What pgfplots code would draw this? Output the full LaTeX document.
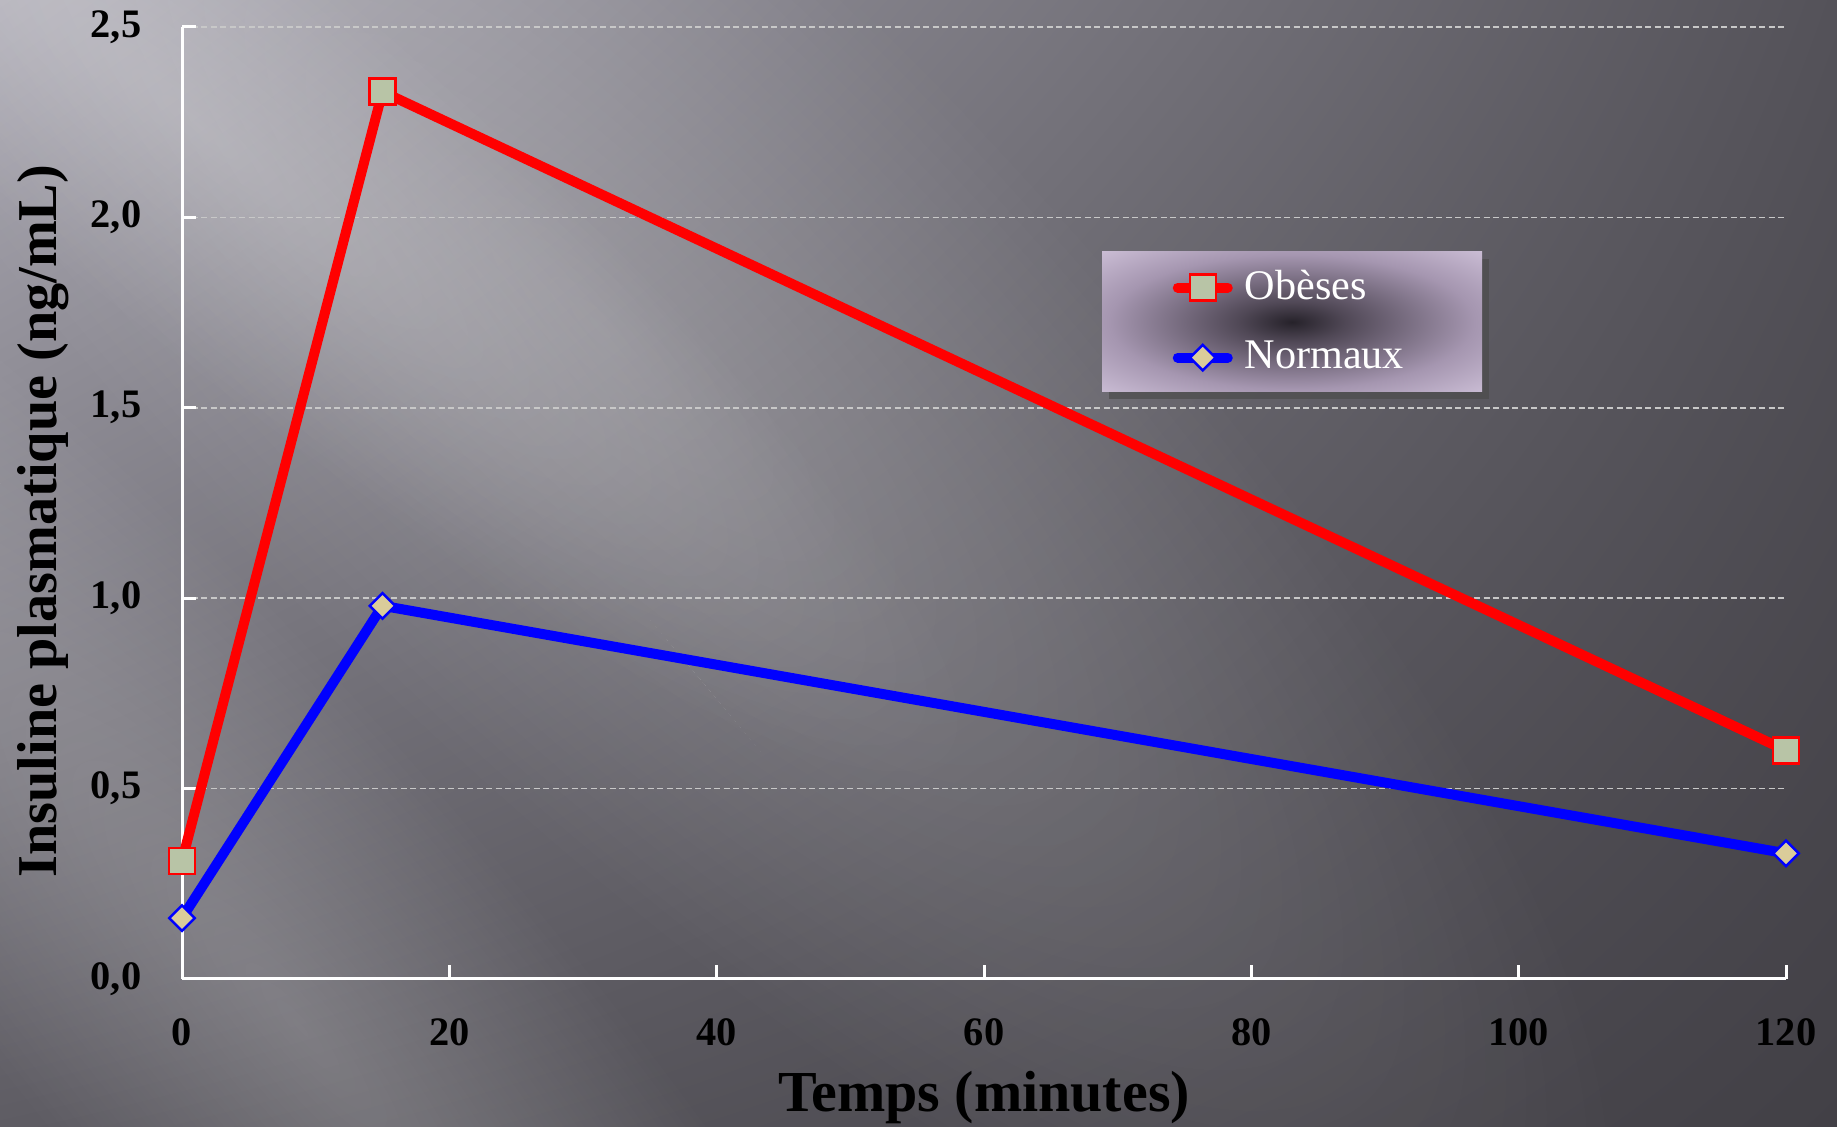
\documentclass[border=0pt]{standalone}
\usepackage{fontspec}
\setmainfont{Liberation Serif}
\usepackage{pgfplots}
\pgfplotsset{compat=1.18}
\usetikzlibrary{shadows,shadings,fadings}

\definecolor{bgUL}{RGB}{170,168,178}
\definecolor{bgUR}{RGB}{84,82,89}
\definecolor{bgLL}{RGB}{94,92,99}
\definecolor{bgLR}{RGB}{66,64,70}
\definecolor{gridgray}{RGB}{200,200,200}
\definecolor{sqfill}{RGB}{184,196,166}
\definecolor{dmfill}{RGB}{218,204,154}
\definecolor{lgdark}{RGB}{38,34,42}
\definecolor{lgdark2}{RGB}{80,72,86}
\definecolor{lgmid}{RGB}{165,150,176}
\definecolor{lgedge}{RGB}{216,203,226}

\pgfdeclareradialshading{legendglow}{\pgfpoint{0bp}{0bp}}{%
  color(0bp)=(lgdark); color(7bp)=(lgdark2); color(24bp)=(lgmid);
  color(40bp)=(lgedge); color(50bp)=(lgedge)}

\tikzfading[name=glow, inner color=transparent!80, outer color=transparent!100]

\begin{document}
\begin{tikzpicture}
% background
\shade[upper left=bgUL, upper right=bgUR, lower left=bgLL, lower right=bgLR]
  (0,0) rectangle (18.37cm,11.27cm);
\fill[white, path fading=glow, fading transform={rotate=-45, yscale=0.3}]
  (-8cm,-6cm) rectangle (20cm,22cm);
\fill[white, path fading=glow, fading transform={rotate=-50, yscale=0.22}]
  (-9cm,-11cm) rectangle (15cm,13cm);
\fill[white, path fading=glow, fading transform={rotate=-40, yscale=0.2}]
  (-8cm,0cm) rectangle (12cm,20cm);

% legend panel
\shade[shading=legendglow,
  drop shadow={shadow xshift=0.7mm, shadow yshift=-0.7mm, opacity=0.7, fill=black!70}]
  (11.02cm,7.35cm) rectangle (14.82cm,8.75cm);

\begin{axis}[
    at={(1.82cm,1.48cm)}, anchor=south west,
    scale only axis,
    width=16.04cm, height=9.52cm,
    xmin=0, xmax=120,
    ymin=0, ymax=2.5,
    xtick={0,20,...,120},
    ytick={0,0.5,...,2.5},
    axis x line=bottom,
    axis y line=left,
    axis line style={-, white, line width=0.3mm},
    tick style={white, line width=0.3mm},
    major tick length=1.4mm,
    tick align=inside,
    ymajorgrids=true,
    grid style={gridgray, line width=0.15mm, dash pattern=on 0.6mm off 0.35mm},
    /pgf/number format/assume math mode=true,
    ticklabel style={font=\bfseries\fontsize{11.5}{13}\selectfont, text=black},
    xticklabel style={anchor=center, inner sep=0pt, yshift=-5.3mm},
    yticklabel style={anchor=east, inner sep=0pt, xshift=-4mm,
      /pgf/number format/.cd, fixed, fixed zerofill, precision=1, use comma},
    xlabel={Temps (minutes)},
    ylabel={Insuline plasmatique (ng/mL)},
    xlabel style={at={(axis description cs:0.5,-0.1397)}, anchor=base,
      font=\bfseries\fontsize{16.5}{18}\selectfont, text=black},
    ylabel style={at={(axis description cs:-0.0865,0.481)}, anchor=center,
      font=\bfseries\fontsize{16}{18}\selectfont, text=black},
    clip=false,
    legend cell align=left,
    legend image code/.code={
      \draw[mark repeat=2, mark phase=2]
        plot coordinates {(0.05cm,0cm) (0.3cm,0cm) (0.55cm,0cm)};
    },
    legend style={
      at={(axis description cs:0.5736,0.7637)}, anchor=north west,
      draw=none, fill=none,
      inner xsep=7.0mm, inner ysep=0pt, row sep=0pt,
      nodes={inner sep=0pt, minimum height=7mm, text=white,
        font=\fontsize{12}{14}\selectfont},
      /tikz/every odd column/.style={column sep=1.2mm},
    },
]
\addplot[red, line width=1mm, line cap=round,
  mark=square*, mark size=1.3mm,
  mark options={draw=red, fill=sqfill, line width=0.7pt}]
  coordinates {(0,0.31) (15,2.33) (120,0.60)};
\addlegendentry{Obèses}

\addplot[blue, line width=1mm, line cap=round,
  mark=square*, mark size=0.9mm,
  mark options={draw=blue, fill=dmfill, line width=0.7pt, rotate=45}]
  coordinates {(0,0.16) (15,0.98) (120,0.33)};
\addlegendentry{Normaux}
\end{axis}

\pgfresetboundingbox
\path[use as bounding box] (0,0) rectangle (18.37cm,11.27cm);
\end{tikzpicture}
\end{document}
